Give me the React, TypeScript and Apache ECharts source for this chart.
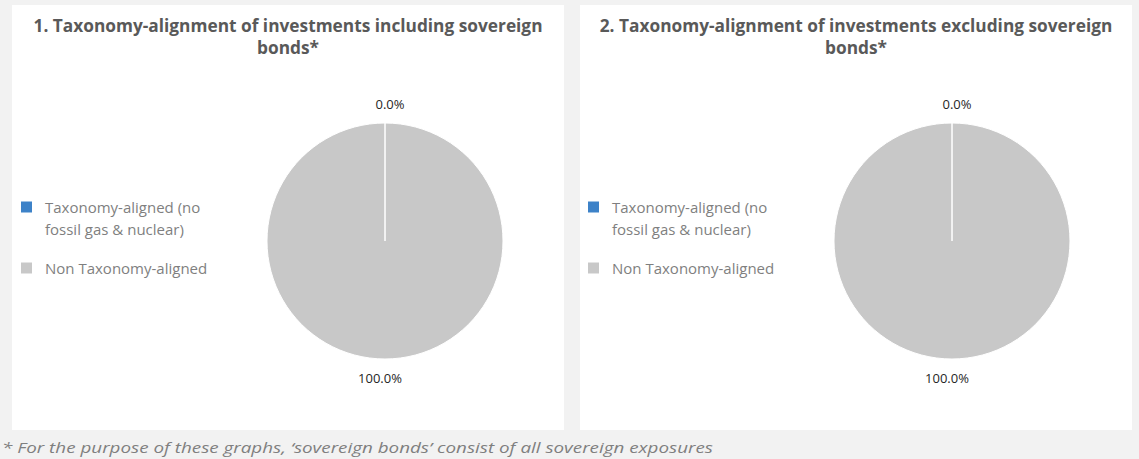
import React, { useEffect, useRef } from 'react';
import * as echarts from 'echarts';

const categories = ['Taxonomy-aligned (no fossil gas & nuclear)', 'Non Taxonomy-aligned'];
const legendLabels = [' \nTaxonomy-aligned (no\nfossil gas & nuclear)', 'Non Taxonomy-aligned'];
const inclSovereign = [0, 100];
const exclSovereign = [0, 100];
const sliceColors = ['#3d82c8', '#c8c8c8'];
const titles = [
  '1. Taxonomy-alignment of investments including sovereign\nbonds*',
  '2. Taxonomy-alignment of investments excluding sovereign\nbonds*',
];
const footnote = '* For the purpose of these graphs, \u2018sovereign bonds\u2019 consist of all sovereign exposures';

const FONT = '"Open Sans", "Noto Sans", sans-serif';

export default function App() {
  const ref = useRef<HTMLDivElement>(null);
  useEffect(() => {
    const chart = echarts.init(ref.current!, null, { renderer: 'svg' });
    const panels = [
      { x: 12, cx: 385, legendLeft: 21, values: inclSovereign, title: titles[0] },
      { x: 580, cx: 952, legendLeft: 588, values: exclSovereign, title: titles[1] },
    ];
    const option: any = {
      animation: false,
      backgroundColor: '#f2f2f2',
      graphic: [
        ...panels.map((p) => ({
          type: 'rect',
          z: 0,
          silent: true,
          shape: { x: p.x, y: 5, width: 552, height: 425 },
          style: { fill: '#ffffff' },
        })),
        {
          type: 'text',
          x: 2,
          y: 441,
          scaleX: 1.345,
          silent: true,
          style: {
            text: footnote,
            font: 'italic 14px "Open Sans", "Noto Sans", sans-serif',
            fill: '#7f7f7f',
          },
        },
      ],
      title: panels.map((p) => ({
        text: p.title,
        left: p.x + 276,
        top: 14,
        textAlign: 'center',
        padding: 0,
        textStyle: {
          fontFamily: FONT,
          fontSize: 17.3,
          fontWeight: 'bold',
          color: '#595959',
          lineHeight: 22,
        },
      })),
      legend: panels.map((p, idx) => ({
        seriesIndex: idx,
        orient: 'vertical',
        left: p.legendLeft,
        top: 174,
        padding: 0,
        itemGap: 17,
        itemWidth: 11,
        itemHeight: 11,
        selectedMode: false,
        icon: 'rect',
        itemStyle: { borderWidth: 0 },
        formatter: (name: string) => legendLabels[categories.indexOf(name)],
        textStyle: {
          fontFamily: FONT,
          fontSize: 15,
          color: '#7f7f7f',
          lineHeight: 22,
          padding: [0, 0, 0, 8],
        },
        data: [categories[0], categories[1]],
      })),
      series: panels.map((p) => ({
        type: 'pie',
        center: [p.cx, 241],
        radius: 118,
        startAngle: 90,
        clockwise: true,
        silent: true,
        avoidLabelOverlap: false,
        // draw the larger slice first so the slice borders stay visible on top
        data: categories
          .map((n, i) => ({
            name: n,
            value: p.values[i],
            itemStyle: { color: sliceColors[i] },
          }))
          .reverse(),
        itemStyle: { borderColor: '#ffffff', borderWidth: 1 },
        label: {
          show: true,
          position: 'outside',
          alignTo: 'none',
          formatter: (prm: any) => Number(prm.value).toFixed(1) + '%',
          fontFamily: FONT,
          fontSize: 13,
          color: '#262626',
        },
        labelLine: { show: false, length: 19, length2: 0 },
        labelLayout: { align: 'center' },
        emphasis: { disabled: true },
      })),
    };
    chart.setOption(option);
    return () => chart.dispose();
  }, []);
  return (
    <div
      ref={ref}
      style={{ position: 'absolute', left: 0, top: 0, width: 1139, height: 459 }}
    />
  );
}
